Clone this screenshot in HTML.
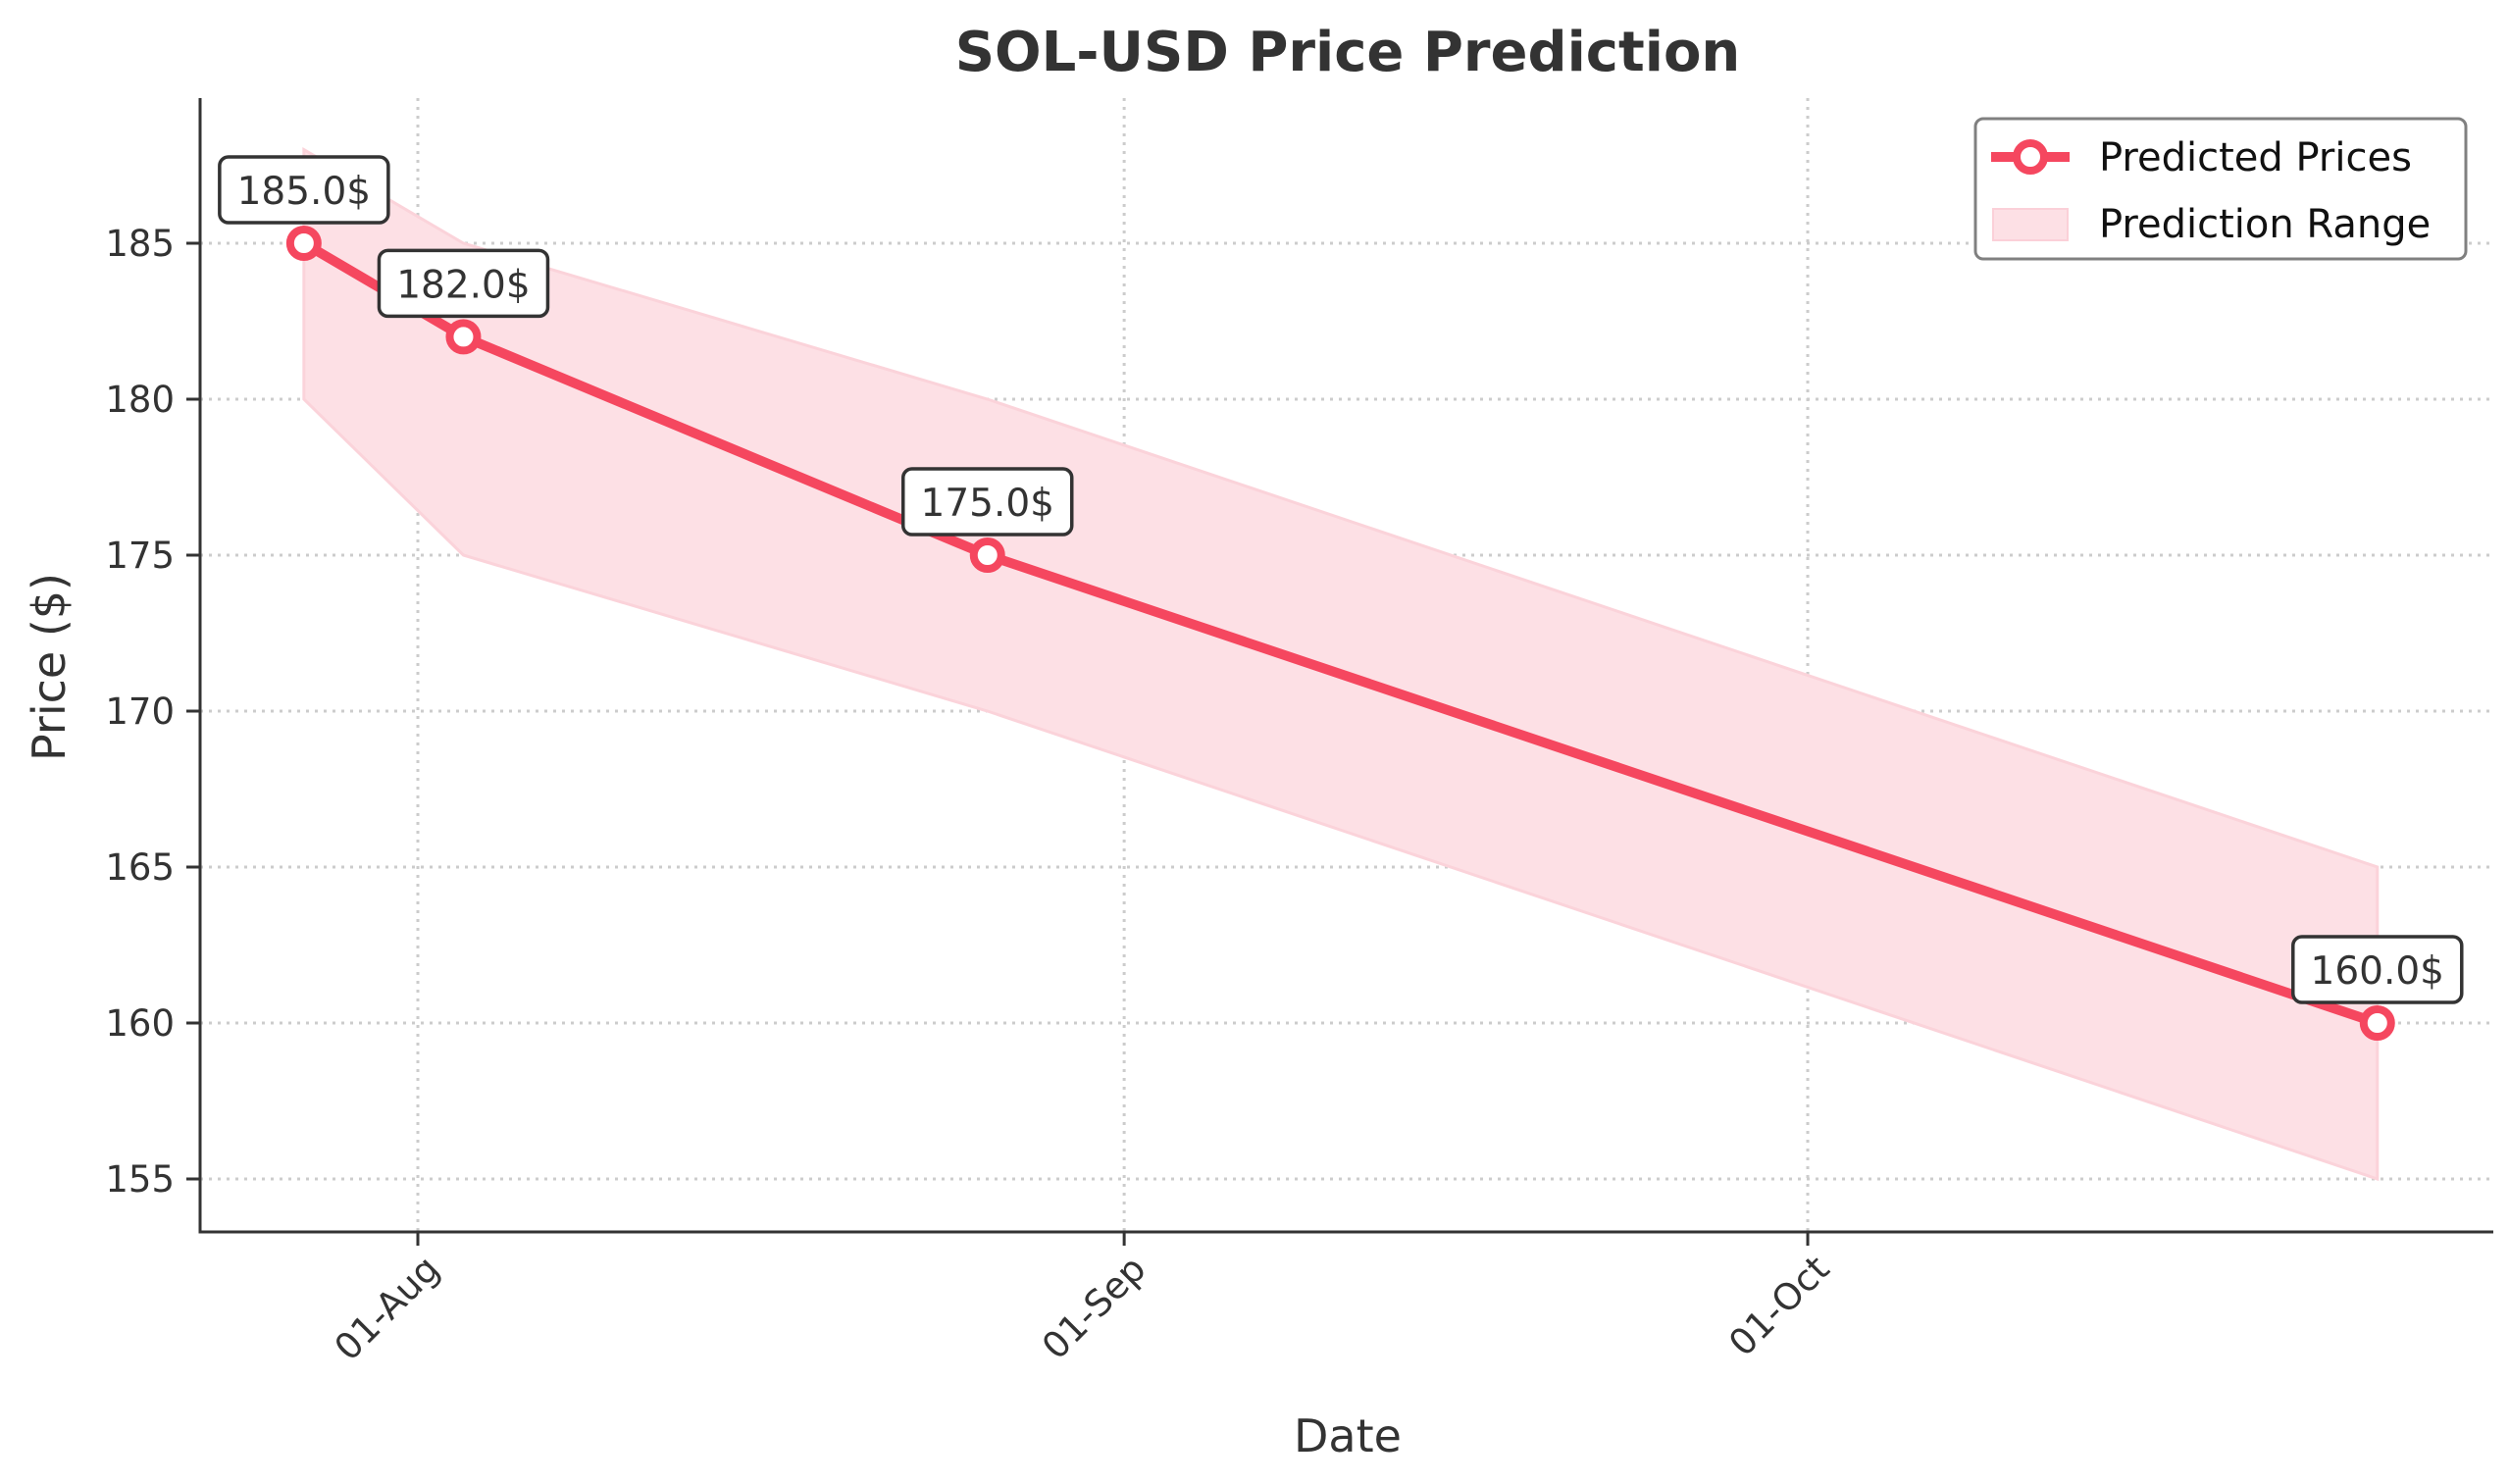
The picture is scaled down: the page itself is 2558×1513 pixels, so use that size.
<!DOCTYPE html>
<html><head><meta charset="utf-8"><style>
html,body{margin:0;padding:0;background:#fff;}
svg{display:block;font-family:"DejaVu Sans","Liberation Sans",sans-serif;}
</style></head><body>
<svg id="chart" width="2558" height="1513" viewBox="0 0 2558 1513" xmlns="http://www.w3.org/2000/svg">
<rect width="2558" height="1513" fill="#fff"/>
<text x="1374" y="72" text-anchor="middle" font-size="56" font-weight="bold" fill="#333">SOL-USD Price Prediction</text>
<g id="grid"></g>
<g id="band"></g>
<g id="line"></g>
<g id="axes"></g>
<g id="labels"></g>
<text x="1374" y="1480" text-anchor="middle" font-size="46" fill="#333">Date</text>
<text transform="translate(66,680) rotate(-90)" text-anchor="middle" font-size="46" fill="#333">Price ($)</text>
<g>
<rect x="2014" y="121" width="500" height="143" rx="8" fill="#fff" stroke="#808080" stroke-width="3"/>
<line x1="2030" y1="160" x2="2110" y2="160" stroke="#f5475f" stroke-width="10"/>
<circle cx="2070" cy="160" r="14" fill="#fff" stroke="#f5475f" stroke-width="8"/>
<text x="2140" y="174" font-size="40" fill="#111">Predicted Prices</text>
<rect x="2032" y="213" width="76" height="32" fill="#fde0e5" stroke="#fbd0d8" stroke-width="2"/>
<text x="2140" y="242" font-size="40" fill="#111">Prediction Range</text>
</g>
</svg>
<script>
const dates = ["2024-07-27","2024-08-03","2024-08-26","2024-10-26"];
const prices = [185, 182, 175, 160];
const lowers = [180, 175, 170, 155];
const uppers = [188, 185, 180, 165];
const yTicks = [155, 160, 165, 170, 175, 180, 185];
const xTickDates = ["2024-08-01","2024-09-01","2024-10-01"];
const xTickLabels = ["01-Aug","01-Sep","01-Oct"];

const NS = "http://www.w3.org/2000/svg";
const L = 204, R = 2542, T = 100, B = 1256;
const day = 86400000;
const t0 = Date.parse("2024-08-01");
function xs(d){ return 426 + (Date.parse(d) - t0) / day * 23.23; }
function ys(v){ return 248 + (185 - v) * 31.8; }
function mk(tag, attrs, parent){ const e = document.createElementNS(NS, tag); for (const k in attrs) e.setAttribute(k, attrs[k]); parent.appendChild(e); return e; }
const grid = document.getElementById('grid'), band = document.getElementById('band'), line = document.getElementById('line'), axes = document.getElementById('axes'), labels = document.getElementById('labels');

yTicks.forEach(v => {
  const y = ys(v);
  const g = mk('line', {x1:L, x2:R, y1:y, y2:y, stroke:'#ccc', 'stroke-width':3, 'stroke-dasharray':'3 6'}, grid);
  
  
  const tk = mk('line', {x1:L-14, x2:L, y1:y, y2:y, stroke:'#333', 'stroke-width':3}, axes);
  
  
  const tx = mk('text', {x:L-26, y:y+13, 'text-anchor':'end', 'font-size':37, fill:'#333'}, axes);
  tx.textContent = v;
  
  
});
xTickDates.forEach((d, i) => {
  const x = xs(d);
  const g = mk('line', {x1:x, x2:x, y1:T, y2:B, stroke:'#ccc', 'stroke-width':3, 'stroke-dasharray':'3 6'}, grid);
  
  
  const tk = mk('line', {x1:x, x2:x, y1:B, y2:B+14, stroke:'#333', 'stroke-width':3}, axes);
  
  
  const tx = mk('text', {x:x+24, y:1296, 'text-anchor':'end', 'font-size':37, fill:'#333', transform:`rotate(-45 ${x+24} 1296)`}, axes);
  tx.textContent = xTickLabels[i];
  
  
});

let pts = dates.map((d,i) => xs(d)+','+ys(uppers[i]));
for (let i = dates.length-1; i >= 0; i--) pts.push(xs(dates[i])+','+ys(lowers[i]));
const poly = mk('polygon', {points:pts.join(' '), fill:'#fde0e5', stroke:'#fbd3da', 'stroke-width':3}, band);



const pl = mk('polyline', {points:dates.map((d,i)=>xs(d)+','+ys(prices[i])).join(' '), fill:'none', stroke:'#f5475f', 'stroke-width':10, 'stroke-linejoin':'round'}, line);



dates.forEach((d,i) => {
  const x = xs(d), y = ys(prices[i]);
  const c = mk('circle', {cx:x, cy:y, r:14, fill:'#fff', stroke:'#f5475f', 'stroke-width':8}, line);
  
  
  const b = mk('rect', {x:x-86, y:y-88, width:172, height:67, rx:9, fill:'#fff', stroke:'#333', 'stroke-width':3.5}, labels);
  
  
  const t = mk('text', {x:x, y:y-40, 'text-anchor':'middle', 'font-size':39, fill:'#333'}, labels);
  t.textContent = prices[i].toFixed(1) + '$';
  
  
});

const sl = mk('line', {x1:L, x2:L, y1:T, y2:B+1.5, stroke:'#333', 'stroke-width':3}, axes);


const sb = mk('line', {x1:L-1.5, x2:R, y1:B, y2:B, stroke:'#333', 'stroke-width':3}, axes);


</script>
</body></html>
